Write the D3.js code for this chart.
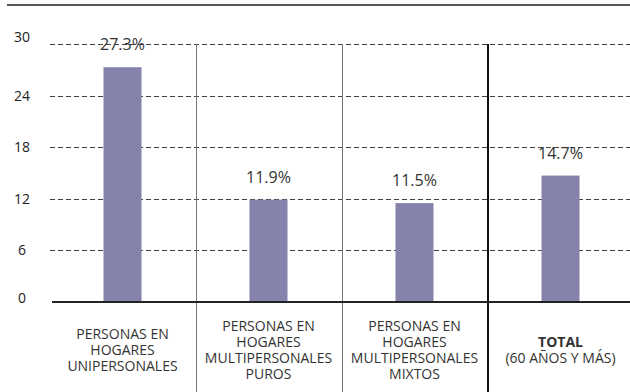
<!DOCTYPE html>
<html>
<head>
<meta charset="utf-8">
<script src="https://cdn.jsdelivr.net/npm/d3@7"></script>
<style>
  html, body { margin: 0; padding: 0; background: #fff; }
  svg { display: block; font-family: "Open Sans", "Noto Sans", sans-serif; }
</style>
</head>
<body>
<svg id="chart" width="630" height="392"></svg>
<script>
// Categories (label lines) and their shares of the population aged 60+
const categories = ["uni", "puros", "mixtos", "total"];
const categoryLines = [
  ["PERSONAS EN", "HOGARES", "UNIPERSONALES"],
  ["PERSONAS EN", "HOGARES", "MULTIPERSONALES", "PUROS"],
  ["PERSONAS EN", "HOGARES", "MULTIPERSONALES", "MIXTOS"],
  ["TOTAL", "(60 AÑOS Y MÁS)"]
];
const values = [27.3, 11.9, 11.5, 14.7];
const yTicks = [0, 6, 12, 18, 24, 30];

const svg = d3.select("#chart");
const W = 630, H = 392;

const x = d3.scaleBand().domain(categories).range([49.5, 633.5]).paddingInner(0).paddingOuter(0);
const y = d3.scaleLinear().domain([0, 30]).range([302, 44]);
const barW = 38;

// top rule
svg.append("line").attr("x1", 7).attr("x2", W).attr("y1", 5).attr("y2", 5)
  .attr("stroke", "#555").attr("stroke-width", 2);

// dashed horizontal grid
svg.append("g").selectAll("line").data(yTicks.filter(d => d > 0)).join("line")
  .attr("x1", 50).attr("x2", W)
  .attr("y1", d => Math.round(y(d)) + 0.5).attr("y2", d => Math.round(y(d)) + 0.5)
  .attr("stroke", "#444").attr("stroke-width", 1).attr("stroke-dasharray", "5,3");

// y axis labels
const yAxis = d3.axisLeft(y).tickValues(yTicks).tickSize(0).tickPadding(0);
const gy = svg.append("g").attr("transform", "translate(30,0)").call(yAxis);
gy.select(".domain").remove();
gy.selectAll("text")
  .attr("x", -8).attr("text-anchor", "middle")
  .attr("dy", d => d === 30 ? "-0.15em" : (d === 0 ? "0.05em" : "0.32em"))
  .attr("font-size", 14).attr("fill", "#222")
  .style("font-family", "'Open Sans', 'Noto Sans', sans-serif");

// bars
svg.append("g").selectAll("rect").data(values).join("rect")
  .attr("x", (d, i) => x(categories[i]) + x.bandwidth() / 2 - barW / 2)
  .attr("y", d => y(d))
  .attr("width", barW)
  .attr("height", d => y(0) - y(d))
  .attr("fill", "#8582ab");

// value labels
svg.append("g").selectAll("text").data(values).join("text")
  .attr("x", (d, i) => x(categories[i]) + x.bandwidth() / 2)
  .attr("y", d => y(d) - 17)
  .attr("text-anchor", "middle")
  .attr("font-size", 16).attr("fill", "#333")
  .text(d => d.toFixed(1) + "%");

// vertical separators between groups
categories.slice(1).forEach((c, i) => {
  const isTotal = c === "total";
  const xx = Math.round(x(c)) + (isTotal ? 0 : 0.5);
  svg.append("line").attr("x1", xx).attr("x2", xx).attr("y1", y(30)).attr("y2", H)
    .attr("stroke", isTotal ? "#111" : "#777").attr("stroke-width", isTotal ? 2 : 1);
});

// baseline
svg.append("line").attr("x1", 52).attr("x2", W).attr("y1", y(0)).attr("y2", y(0))
  .attr("stroke", "#222").attr("stroke-width", 2);

// category labels
const lineH = 16, midY = 350;
categoryLines.forEach((lines, i) => {
  const cx = x(categories[i]) + x.bandwidth() / 2;
  const top = midY - (lines.length - 1) * lineH / 2;
  const t = svg.append("text").attr("text-anchor", "middle").attr("font-size", 14).attr("fill", "#333");
  lines.forEach((ln, j) => {
    t.append("tspan").attr("x", cx).attr("y", top + j * lineH).attr("dy", "0.35em")
      .attr("font-weight", categories[i] === "total" && j === 0 ? "bold" : null)
      .text(ln);
  });
});
</script>
</body>
</html>
